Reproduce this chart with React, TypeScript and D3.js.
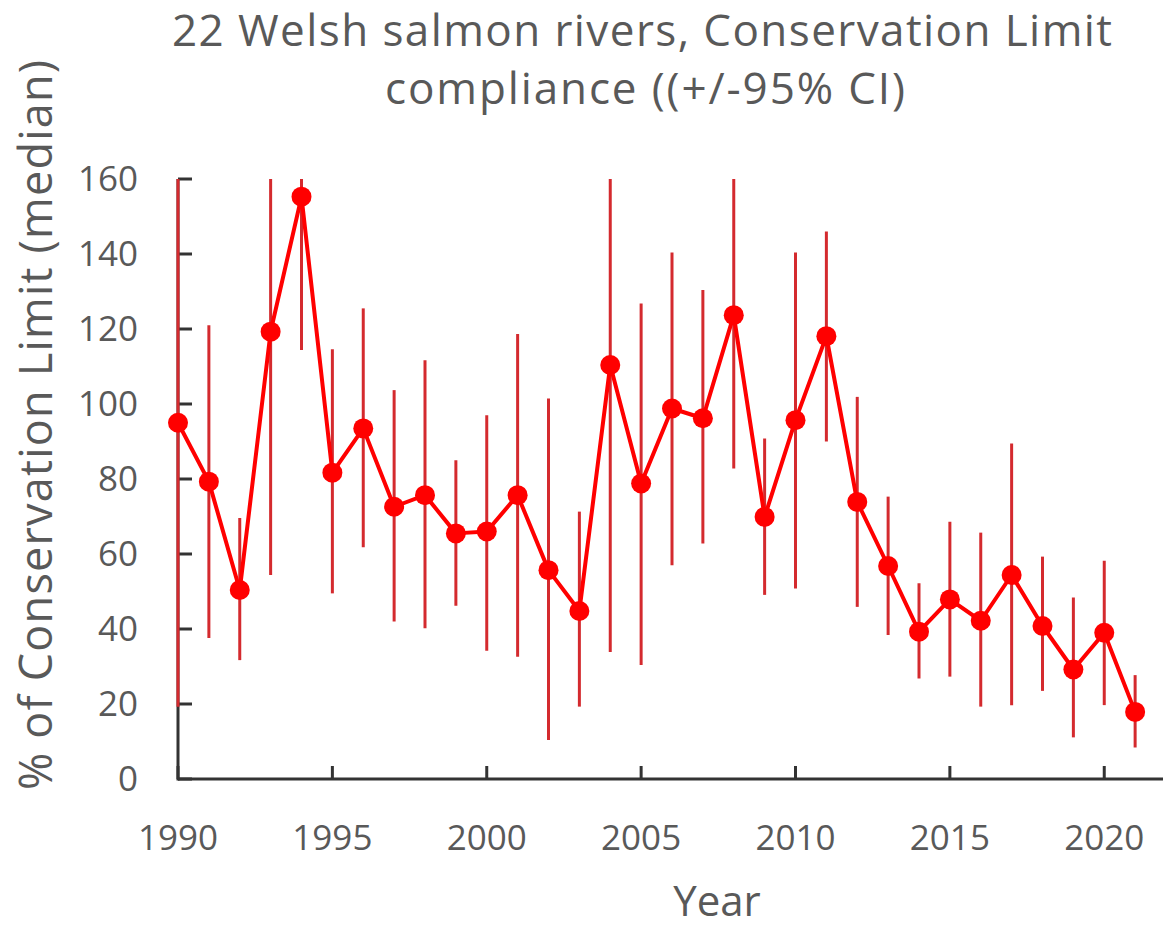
import React from "react";
import * as d3 from "d3";

const years = [1990,1991,1992,1993,1994,1995,1996,1997,1998,1999,2000,2001,2002,2003,2004,2005,2006,2007,2008,2009,2010,2011,2012,2013,2014,2015,2016,2017,2018,2019,2020,2021];
const median = [95,79.3,50.4,119.3,155.3,81.7,93.5,72.6,75.7,65.5,66,75.7,55.7,44.8,110.4,78.8,98.8,96.2,123.7,69.9,95.7,118.1,73.9,56.8,39.3,47.9,42.2,54.4,40.8,29.2,39,17.9];
const upper = [160,121,69.6,160,160,114.6,125.5,103.7,111.7,85,97,118.7,101.5,71.3,160,126.8,140.4,130.4,160,90.8,140.4,146,101.9,75.3,52.2,68.6,65.7,89.5,59.3,48.4,58.2,27.7];
const lower = [19.3,37.6,31.7,54.4,114.4,49.5,61.8,42,40.2,46.2,34.2,32.6,10.4,19.3,33.9,30.4,57,62.8,82.8,49.1,50.8,90,45.9,38.4,26.8,27.3,19.3,19.7,23.5,11.1,19.7,8.4];
const yTicks = [0,20,40,60,80,100,120,140,160];
const xTicks = [1990,1995,2000,2005,2010,2015,2020];

const W = 1163, H = 930;
const FONT = "'Open Sans', Lato, sans-serif";
const TEXT = "#595959";

export default function App() {
  const x = d3.scaleLinear().domain([1990, 2022]).range([178, 1166]);
  const y = d3.scaleLinear().domain([0, 160]).range([779, 179]);
  const pts = years.map((yr, i) => ({ yr, m: median[i], lo: lower[i], hi: Math.min(upper[i], 160) }));
  const line = d3.line<any>().x(d => x(d.yr)).y(d => y(d.m));
  return (
    <svg width={W} height={H} style={{ position: "absolute", left: 0, top: 0, background: "#fff" }}>
      <rect width={W} height={H} fill="#fff" />
      <text x={642} y={46} textAnchor="middle" fontFamily={FONT} fontSize={44} fill={TEXT} textLength={940} lengthAdjust="spacing">22 Welsh salmon rivers, Conservation Limit</text>
      <text x={645} y={104} textAnchor="middle" fontFamily={FONT} fontSize={44} fill={TEXT} textLength={520} lengthAdjust="spacing">compliance ((+/-95% CI)</text>
      {/* axes */}
      <line x1={x(1990)} x2={W} y1={y(0)} y2={y(0)} stroke="#333" strokeWidth={3} />
      <line x1={x(1990)} x2={x(1990)} y1={y(0) + 1.5} y2={y(160)} stroke="#333" strokeWidth={3} />
      {yTicks.map(t => (
        <g key={"y" + t}>
          <line x1={x(1990)} x2={x(1990) + 14} y1={y(t)} y2={y(t)} stroke="#333" strokeWidth={3} />
          <text x={138} y={y(t) + 12} textAnchor="end" fontFamily={FONT} fontSize={35} fill={TEXT}>{t}</text>
        </g>
      ))}
      {xTicks.map(t => (
        <g key={"x" + t}>
          <line x1={x(t)} x2={x(t)} y1={y(0)} y2={y(0) - 13} stroke="#333" strokeWidth={3} />
          <text x={x(t)} y={850} textAnchor="middle" fontFamily={FONT} fontSize={35} fill={TEXT}>{t}</text>
        </g>
      ))}
      <text transform="translate(52,425) rotate(-90)" textAnchor="middle" fontFamily={FONT} fontSize={45} fill={TEXT} textLength={730} lengthAdjust="spacing">% of Conservation Limit (median)</text>
      <text x={717} y={916} textAnchor="middle" fontFamily={FONT} fontSize={42} fill={TEXT}>Year</text>
      {/* error bars */}
      {pts.map(p => (
        <line key={"e" + p.yr} x1={x(p.yr)} x2={x(p.yr)} y1={y(p.lo)} y2={y(p.hi)} stroke="#d42a2e" strokeWidth={3} />
      ))}
      <path d={line(pts) || ""} fill="none" stroke="#ff0000" strokeWidth={4} strokeLinejoin="round" />
      {pts.map(p => (
        <circle key={"c" + p.yr} cx={x(p.yr)} cy={y(p.m)} r={10} fill="#ff0000" />
      ))}
    </svg>
  );
}
